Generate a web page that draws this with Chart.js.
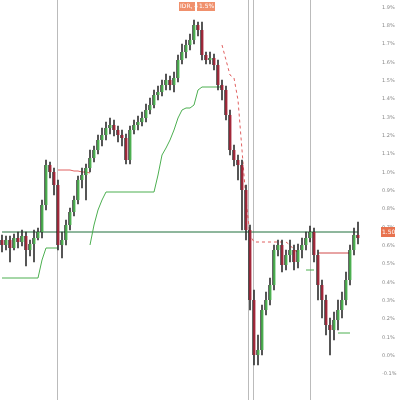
<!DOCTYPE html><html><head><style>body{margin:0;background:#fff}#w{width:400px;height:400px}</style>
<script src="https://cdn.jsdelivr.net/npm/chart.js@4"></script></head><body><div id="w"><canvas id="c"></canvas></div><script>
const opens=[240,245,240,248,238,242,236,250,244,238,232,205,165,172,185,245,240,225,212,200,180,175,168,158,150,140,135,128,125,130,135,138,160,130,125,122,118,110,105,95,92,85,80,85,78,60,52,45,40,25,30,55,60,58,65,85,90,115,150,160,165,190,230,300,355,350,310,300,285,250,245,265,255,250,262,250,245,238,232,255,285,300,325,330,320,310,300,280,250,235];
const closes=[245,240,248,238,242,236,250,244,238,232,205,165,172,185,245,240,225,212,200,180,175,168,158,150,140,135,128,125,130,135,138,160,130,125,122,118,110,105,95,92,85,80,85,78,60,52,45,40,25,30,55,60,58,65,85,90,115,150,160,165,190,230,300,355,350,310,300,285,250,245,265,255,250,262,250,245,238,232,255,285,300,325,330,320,310,300,280,250,235,238];
const highs=[235,236,236,234,232,230,232,240,230,228,200,160,162,168,180,232,220,208,196,176,168,164,150,146,135,128,122,118,120,126,130,134,126,120,116,112,104,98,90,86,80,74,76,72,55,44,40,34,20,22,22,52,52,54,60,80,86,110,145,155,160,185,225,290,335,305,292,278,245,240,240,250,240,245,244,238,232,226,228,250,280,295,318,312,300,292,272,245,228,222];
const lows=[252,250,262,250,248,246,266,256,262,240,238,210,178,195,250,258,245,230,216,204,188,200,172,162,154,146,140,134,136,142,146,164,164,134,130,126,122,114,108,100,96,90,90,92,82,64,58,50,44,36,60,64,64,70,90,100,120,155,166,180,230,240,310,365,365,355,315,305,290,256,272,270,262,270,268,258,250,242,262,300,318,335,355,340,330,318,305,285,255,244];
const support=[278,278,278,278,278,278,278,278,278,278,260,248,248,248,248,null,null,null,null,null,null,null,245,225,210,200,192,192,192,192,192,192,192,192,192,192,192,192,192,175,155,148,140,130,118,110,108,108,105,90,87,87,87,87,87,87];
const resist1=[null,null,null,null,null,null,null,null,null,null,null,null,null,null,170,170,170,170,171,171,172,172,173];
const r2v=[60,75,78,100,150,200,235,242,242,242,242,242,242,242,242,242,245,250,252];
const r3v=[253,253,253,253,253,253,253,253,253];
const stub1Idx=[76,77,78], stub1Val=[270,270,270];
const stub2Idx=[84,85,86,87], stub2Val=[333,333,333,333];
const levelLine=232;
const vlines=[13.8,61.5,62.8,77];
const tickPos=[8,26,44,63,81,99,118,136,154,173,191,209,228,246,264,283,301,319,338,356,374];
const tickLabels=['1.9%','1.8%','1.7%','1.6%','1.5%','1.4%','1.3%','1.2%','1.1%','1.0%','0.9%','0.8%','0.7%','0.6%','0.5%','0.4%','0.3%','0.2%','0.1%','0.0%','-0.1%'];
const labels=closes.map((_,i)=>i);
const r2=new Array(90).fill(null);r2[55]=45;r2v.forEach((v,k)=>r2[56+k]=v);
const r3=new Array(90).fill(null);r3v.forEach((v,k)=>r3[79+k]=v);
const s1=new Array(90).fill(null);stub1Idx.forEach((x,k)=>s1[x]=stub1Val[k]);
const s2=new Array(90).fill(null);stub2Idx.forEach((x,k)=>s2[x]=stub2Val[k]);
const up=closes.map((c,i)=>c<=opens[i]);
const extras={id:'ex',beforeDatasetsDraw(ch){const {ctx,scales:{x,y},chartArea:a}=ch;ctx.save();ctx.strokeStyle='#bbb';ctx.lineWidth=1;vlines.forEach(v=>{const px=Math.round(x.getPixelForValue(v))+.5;ctx.beginPath();ctx.moveTo(px,a.top);ctx.lineTo(px,a.bottom);ctx.stroke();});ctx.restore();},
afterDraw(ch){const {ctx,scales:{y},chartArea:a}=ch;ctx.save();ctx.font='5px DejaVu Sans';ctx.textBaseline='middle';ctx.fillStyle='#888';
tickPos.forEach((v,i)=>ctx.fillText(tickLabels[i],a.right+22,y.getPixelForValue(v)));
const py=y.getPixelForValue(levelLine);ctx.fillStyle='#e8734f';ctx.fillRect(a.right+21,py-5,14,10);ctx.fillStyle='#fff';ctx.font='6px DejaVu Sans';ctx.fillText('1.50',a.right+22,py);
ctx.fillStyle='#f0906c';ctx.fillRect(179,2,16,9);ctx.fillRect(197,2,18,9);ctx.fillStyle='#fff';ctx.fillText('IDR, 4',180,6.5);ctx.fillText('1.5%',199,6.5);ctx.restore();}};
new Chart(document.getElementById('c'),{data:{labels,datasets:[
{type:'line',data:new Array(90).fill(levelLine),borderColor:'#1f6e3a',borderWidth:1,pointRadius:0,order:5},
{type:'line',data:support,borderColor:'#4caf50',borderWidth:1,pointRadius:0,spanGaps:false,order:4},
{type:'line',data:resist1,borderColor:'#e06060',borderWidth:1,pointRadius:0,order:4},
{type:'line',data:r2,borderColor:'#e06060',borderWidth:1,borderDash:[3,3],pointRadius:0,order:4},
{type:'line',data:r3,borderColor:'#d04848',borderWidth:1,pointRadius:0,order:4},
{type:'line',data:s1,borderColor:'#4caf50',borderWidth:1,pointRadius:0,order:4},
{type:'line',data:s2,borderColor:'#4caf50',borderWidth:1,pointRadius:0,order:4},
{type:'bar',data:highs.map((h,i)=>[lows[i],h]),backgroundColor:'#333',barThickness:1,grouped:false,order:3},
{type:'bar',data:opens.map((o,i)=>[o,closes[i]]),backgroundColor:up.map(u=>u?'#4caf50':'#a3283a'),borderColor:'#222',borderWidth:{left:1,right:0,top:0,bottom:0},barThickness:3,grouped:false,borderSkipped:false,order:2}
]},options:{animation:false,responsive:true,maintainAspectRatio:false,layout:{padding:0},plugins:{legend:{display:false},tooltip:{enabled:false}},
scales:{x:{display:false,offset:true},y:{position:'right',reverse:true,min:0,max:400,grid:{display:false},border:{display:false},afterFit(s){s.width=40;},ticks:{display:false}}}},plugins:[extras]});
</script></body></html>
